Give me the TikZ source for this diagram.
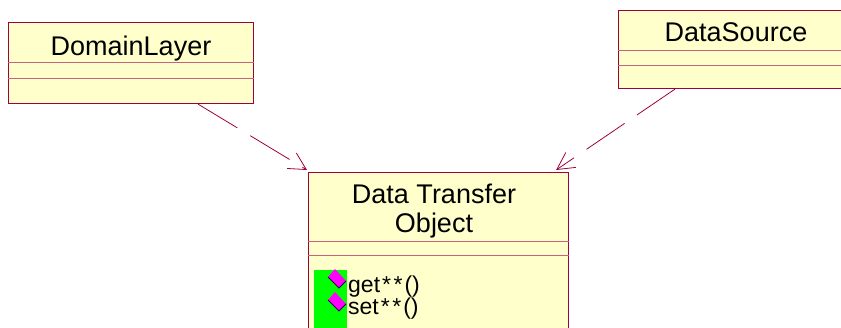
\documentclass[tikz,border=0pt]{standalone}
\usepackage{fontspec}
\setmainfont{Liberation Sans}
\usetikzlibrary{arrows.meta,calc}
\definecolor{umlfill}{HTML}{FFFFCC}
\definecolor{umlline}{HTML}{A0003C}
\definecolor{umlsep}{HTML}{C8607F}
\definecolor{opgreen}{HTML}{00FF00}
\definecolor{opmag}{HTML}{FF00FF}
\definecolor{opdark}{HTML}{300060}
\begin{document}
\begin{tikzpicture}[x=1pt,y=-1pt,
  classbox/.style={draw=umlline, fill=umlfill, line width=1.1pt, rectangle, inner sep=0pt, anchor=north west},
  sepline/.style={draw=umlsep, line width=0.9pt},
  classtitle/.style={font=\fontsize{27}{29}\selectfont, anchor=base, inner sep=0pt},
  optext/.style={font=\fontsize{23}{25}\selectfont, anchor=base west, inner sep=0pt},
  dep/.style={draw=umlline, line width=0.8pt, dash pattern=on 46pt off 15pt, -{Straight Barb[length=17pt,width=18pt]}},
  opmark/.style={fill=opmag},
  opshade/.style={draw=opdark, line width=1pt}
]
\useasboundingbox (0,0) rectangle (841,328);
\clip (0,0) rectangle (841,328);
\fill[white] (0,0) rectangle (841,328);

% DomainLayer
\node[classbox, minimum width=245pt, minimum height=81pt] (dl) at (8,22) {};
\draw[sepline] ($(dl.north west)+(0,40)$) -- ($(dl.north east)+(0,40)$);
\draw[sepline] ($(dl.north west)+(0,56)$) -- ($(dl.north east)+(0,56)$);
\node[classtitle] (dlt) at (131,56) {DomainLayer};

% DataSource
\node[classbox, minimum width=240pt, minimum height=78pt] (ds) at (618,10) {};
\draw[sepline] ($(ds.north west)+(0,40)$) -- ($(ds.north east)+(0,40)$);
\draw[sepline] ($(ds.north west)+(0,55)$) -- ($(ds.north east)+(0,55)$);
\node[classtitle] (dst) at (736,42) {DataSource};

% Data Transfer Object
\node[classbox, minimum width=260pt, minimum height=200pt] (dto) at (308,172) {};
\draw[sepline] ($(dto.north west)+(0,69)$) -- ($(dto.north east)+(0,69)$);
\draw[sepline] ($(dto.north west)+(0,83)$) -- ($(dto.north east)+(0,83)$);
\node[classtitle] (dtoa) at (434,204) {Data Transfer};
\node[classtitle] (dtob) at (434,233) {Object};

% operations
\fill[opgreen] (314,270) rectangle (347,330);
\fill[opmark] (328,277) -- (335,269) -- (346,281) -- (339,288) -- cycle;
\draw[opshade] (328,277) -- (339,288) -- (346,281);
\fill[opmark] (328,300) -- (335,292) -- (346,304) -- (339,311) -- cycle;
\draw[opshade] (328,300) -- (339,311) -- (346,304);
\node[optext] (opget) at (348,293) {get\hspace{2pt}*\hspace{2.5pt}*\hspace{2pt}()};
\node[optext] (opset) at (348,315) {set\hspace{2pt}*\hspace{2.5pt}*\hspace{2pt}()};

% dependencies
\draw[dep] ($(dl.south west)+(190,0)$) -- ($(dto.north west)+(-1,-2)$);
\draw[dep] ($(ds.south west)+(57,0)$) -- ($(dto.north east)+(-13,-2)$);
\end{tikzpicture}
\end{document}
